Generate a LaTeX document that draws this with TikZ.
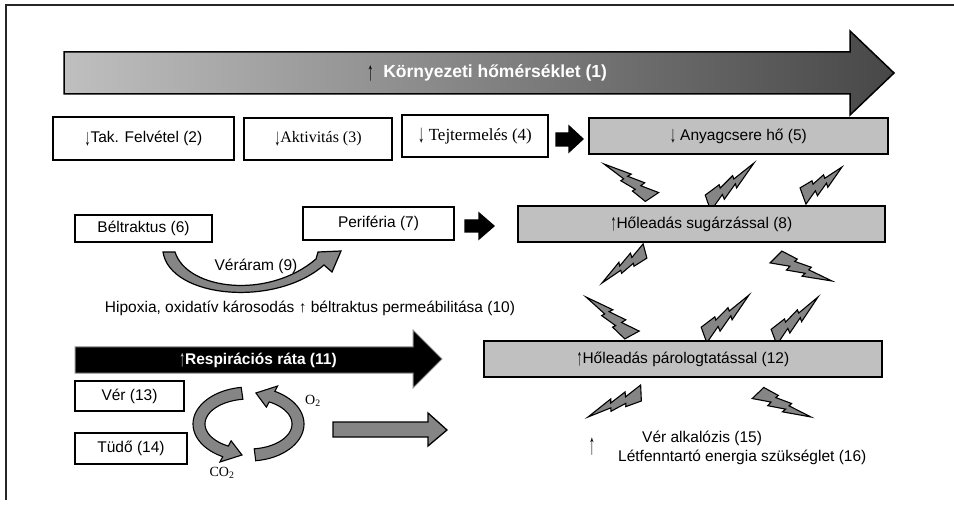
\documentclass[tikz,border=0pt]{standalone}
\usepackage{fontspec}
\setmainfont{Liberation Sans}
\newfontfamily\tnr{Liberation Serif}
\definecolor{boxgray}{HTML}{C0C0C0}
\definecolor{boltgray}{HTML}{858585}
\newcommand\dar{\raisebox{-0.3ex}{\scalebox{0.75}[1.5]{↓}}}
\newcommand\uar{\raisebox{-0.3ex}{\scalebox{0.75}[1.5]{↑}}}
\newcommand\zbolt[5]{%
  \pgfmathsetmacro\bdx{#3-#1}%
  \pgfmathsetmacro\bdy{#4-#2}%
  \pgfmathsetmacro\blen{veclen(\bdx,\bdy)}%
  \pgfmathsetmacro\bang{atan2(-\bdy,\bdx)}%
  \pgfmathsetmacro\bwid{-#5*\blen}%
  \begin{scope}[shift={(#1,#2)},rotate=\bang,x=\blen pt,y=\bwid pt]
    \filldraw[boltstyle] (0.051,-0.170) -- (0.335,-0.141) -- (0.311,-0.072) -- (0.599,-0.098)
      -- (0.578,-0.025) -- (1,0) -- (0.516,0.162) -- (0.546,0.076) -- (0.242,0.173)
      -- (0.269,0.066) -- (-0.051,0.170) -- cycle;
  \end{scope}}
\begin{document}
\begin{tikzpicture}[x=1pt,y=-1pt,
  every node/.style={font=\fontsize{15.5}{18}\selectfont, inner sep=0pt},
  wbox/.style n args={2}{draw=black, line width=2.4pt, fill=white, minimum width=#1, minimum height=#2},
  gbox/.style n args={2}{draw=black, line width=2pt, fill=boxgray, minimum width=#1, minimum height=#2},
  boltstyle/.style={fill=boltgray, draw=black, line width=1.1pt, line join=miter},
  blockarrow/.style={draw=black, line width=1.3pt, line join=miter},
  serifnode/.style={font=\tnr\fontsize{#1}{18}\selectfont}]
\useasboundingbox (0,0) rectangle (954,505);
% frame
\draw[line width=1.3pt, black!85] (954,5) -- (6,5) -- (6,500);

% big temperature arrow
\path[draw=black, line width=1.5pt, line join=miter, left color=black!25, right color=black!72]
  (64,52) -- (850,52) -- (850,31) -- (894,73) -- (850,115) -- (850,94) -- (64,94) -- cycle;
\node[font=\fontsize{17.5}{20}\selectfont] (env) at (487,73) {\textcolor{black}{\uar}\ \ \textcolor{white}{\bfseries Környezeti hőmérséklet (1)}};

% row 2 boxes
\node[wbox={181pt}{43pt}] (tak) at (143.5,138.5) {\dar Tak. Felvétel (2)};
\node[wbox={148pt}{42pt}, serifnode=16] (akt) at (318,139) {\dar Aktivitás (3)};
\node[wbox={146pt}{42pt}, serifnode=17] (tej) at (475,136) {\dar\ Tejtermelés (4)};
\node[gbox={299pt}{36pt}] (any) at (738.5,136) {\dar\ Anyagcsere hő (5)};
\filldraw[blockarrow, fill=black] (556,133) -- (569,133) -- (569,126) -- (583,139) -- (569,152) -- (569,146) -- (556,146) -- cycle;

% bolts between 5 and 8
\zbolt{652}{197}{604}{164}{0.75}
\zbolt{708}{203}{754}{163}{0.75}
\zbolt{803}{196}{842}{167}{1.0}

% row 3
\node[wbox={137pt}{27pt}] (bel) at (143.5,228.5) {Béltraktus (6)};
\node[wbox={151pt}{33pt}] (per) at (378.5,223.5) {Periféria (7)};
\node[gbox={367pt}{36pt}] (sug) at (701.5,224) {\uar Hőleadás sugárzással (8)};
\filldraw[blockarrow, fill=black] (465,220) -- (479,220) -- (479,213) -- (494,226) -- (479,239) -- (479,232) -- (465,232) -- cycle;

% curved blood flow arrow
\filldraw[blockarrow, fill=boltgray, line width=1.2pt]
  (163,252) .. controls (170,298) and (275,308) .. (324,265)
  -- (332,272) -- (341,251) -- (318,252) -- (316,259)
  .. controls (268,300) and (187,290) .. (175,252) -- cycle;
\node (vera) at (256,266) {Véráram (9)};
\node (hip) at (310,308) {Hipoxia, oxidatív károsodás ↑ béltraktus permeábilitása (10)};

% bolts between 8 and 12
\zbolt{645}{251}{602}{283}{0.75}
\zbolt{776}{257}{832}{281}{0.75}
\zbolt{632}{335}{586}{297}{0.75}
\zbolt{704}{335}{749}{295}{0.75}
\zbolt{774}{337}{818}{297}{0.75}

% respiration arrow
\filldraw[fill=black, draw=black!45, line width=1pt, line join=miter]
  (75,347) -- (413,347) -- (413,330) -- (442,359) -- (413,388) -- (413,373) -- (75,373) -- cycle;
\node (resp) at (258,360) {\textcolor{black!15}{\uar}\textcolor{white}{\bfseries Respirációs ráta (11)}};
\node[gbox={398pt}{36pt}, line width=1.5pt] (par) at (683,359) {\uar Hőleadás párologtatással (12)};

% blood / lung
\node[wbox={109pt}{30pt}] (ver) at (129.5,396) {Vér (13)};
\node[wbox={112pt}{31pt}] (tud) at (131,448.5) {Tüdő (14)};

% circular arrows
\filldraw[blockarrow, fill=boltgray, line width=1.1pt]
  plot[domain=262:118, samples=40] ({249+56*cos(\x)},{424+37*sin(\x)})
  -- (219.9,462.0) -- (242,455) -- (231.1,440.8)
  -- plot[domain=118:262, samples=40] ({249+44*cos(\x)},{424+25*sin(\x)}) -- cycle;
\filldraw[blockarrow, fill=boltgray, line width=1.1pt]
  plot[domain=83:-62, samples=40] ({249+55*cos(\x)},{424+37*sin(\x)})
  -- (277.6,386.0) -- (255.9,393) -- (266.4,407.2)
  -- plot[domain=-62:83, samples=40] ({249+43*cos(\x)},{424+25*sin(\x)}) -- cycle;
\node[serifnode=14] (o2) at (313,401) {O\textsubscript{2}};
\node[serifnode=14] (co2) at (222,473) {CO\textsubscript{2}};

% gray block arrow
\filldraw[blockarrow, fill=boltgray] (333,422) -- (428,422) -- (428,413) -- (447,430) -- (428,446) -- (428,437) -- (333,437) -- cycle;

% bolts below 12
\zbolt{641}{393}{588}{417}{0.75}
\zbolt{758}{393}{811}{417}{0.75}

% bottom texts
\node (up) at (592,447) {\scalebox{0.8}[1.9]{↑}};
\node[anchor=west] (alk) at (642,438) {Vér alkalózis (15)};
\node[anchor=west] (lef) at (618,457) {Létfenntartó energia szükséglet (16)};
\end{tikzpicture}
\end{document}
